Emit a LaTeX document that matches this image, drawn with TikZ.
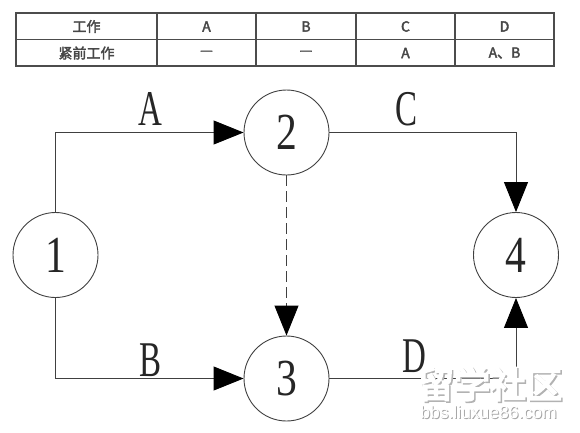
\documentclass[tikz,border=0pt]{standalone}
\usepackage{fontspec}
\newfontfamily\cjk[FakeBold=2.6]{Noto Sans CJK SC}
\newfontfamily\cjkwm[FakeBold=5]{Noto Sans CJK SC}
\newfontfamily\wmsans{Liberation Sans}
\newfontfamily\numfont{Liberation Serif}
\usetikzlibrary{arrows.meta}
\tikzset{
  evt/.style={circle, draw=black!75, line width=0.9pt, minimum size=85pt, inner sep=0pt, fill=white},
  num/.style={font=\numfont\fontsize{52}{52}\selectfont, text=black!85},
  lbl/.style={font=\numfont\fontsize{50}{50}\selectfont, text=black!85, inner sep=0pt},
  act/.style={draw=black!75, line width=0.9pt, -{Triangle[length=30pt,width=24pt,fill=black,color=black]}},
  dummy/.style={act, dash pattern=on 11pt off 5pt},
  cell/.style={font=\cjk\fontsize{14}{14}\selectfont, text=black!72, inner sep=0pt},
  tline/.style={draw=black!70, line width=1.6pt}
}
\begin{document}
\begin{tikzpicture}[x=1pt, y=-1pt]
\useasboundingbox (0,0) rectangle (580,432);
% table
\draw[tline] (16,13) rectangle (554,66);
\draw[tline] (16,39.5) -- (554,39.5);
\foreach \cx in {157,256,356,455} \draw[tline] (\cx,13) -- (\cx,66);
\node[cell] (h0) at (86.5,26.5) {工作};
\node[cell] (h1) at (206.5,26.5) {A};
\node[cell] (h2) at (306,26.5) {B};
\node[cell] (h3) at (405.5,26.5) {C};
\node[cell] (h4) at (504.5,26.5) {D};
\node[cell] (r0) at (86.5,53) {紧前工作};
\node[cell] (r1) at (206.5,53) {—};
\node[cell] (r2) at (306,53) {—};
\node[cell] (r3) at (405.5,53) {A};
\node[cell] (r4) at (504.5,53) {A、B};
% events
\node[evt] (n1) at (55.5,255) {};
\node[evt] (n2) at (286.5,132.5) {};
\node[evt] (n3) at (286.5,378.5) {};
\node[evt] (n4) at (516,255) {};
\node[num] at (n1) {\scalebox{0.8}[1]{1}};
\node[num] at (n2) {\scalebox{0.8}[1]{2}};
\node[num] at (n3) {\scalebox{0.8}[1]{3}};
\node[num] at (n4) {\scalebox{0.8}[1]{4}};
% activities
\draw[act] (n1.north) |- (n2.west);
\draw[act] (n1.south) |- (n3.west);
\draw[act] (n2.east) -| (n4.north);
\draw[act] (n3.east) -| (n4.south);
\draw[dummy] (n2.south) -- (n3.north);
% labels
\node[lbl] (la) at (150,109) {\scalebox{0.66}[1]{A}};
\node[lbl] (lc) at (406,109) {\scalebox{0.66}[1]{C}};
\node[lbl] (lb) at (151,360) {\scalebox{0.66}[1]{B}};
\node[lbl] (ld) at (414,356) {\scalebox{0.66}[1]{D}};
% watermark
\node[font=\cjkwm\fontsize{36}{36}\selectfont, text=black!30, inner sep=0pt] at (491.5,385.5) {留学社区};
\node[font=\cjkwm\fontsize{36}{36}\selectfont, text=white, inner sep=0pt] (wm1) at (490,384) {留学社区};
\node[font=\wmsans\fontsize{17.5}{17.5}\selectfont, text=black!35, inner sep=0pt] at (489.5,413) {bbs.liuxue86.com};
\node[font=\wmsans\fontsize{17.5}{17.5}\selectfont, text=white, inner sep=0pt] (wm2) at (488.5,412) {bbs.liuxue86.com};
\end{tikzpicture}
\end{document}
